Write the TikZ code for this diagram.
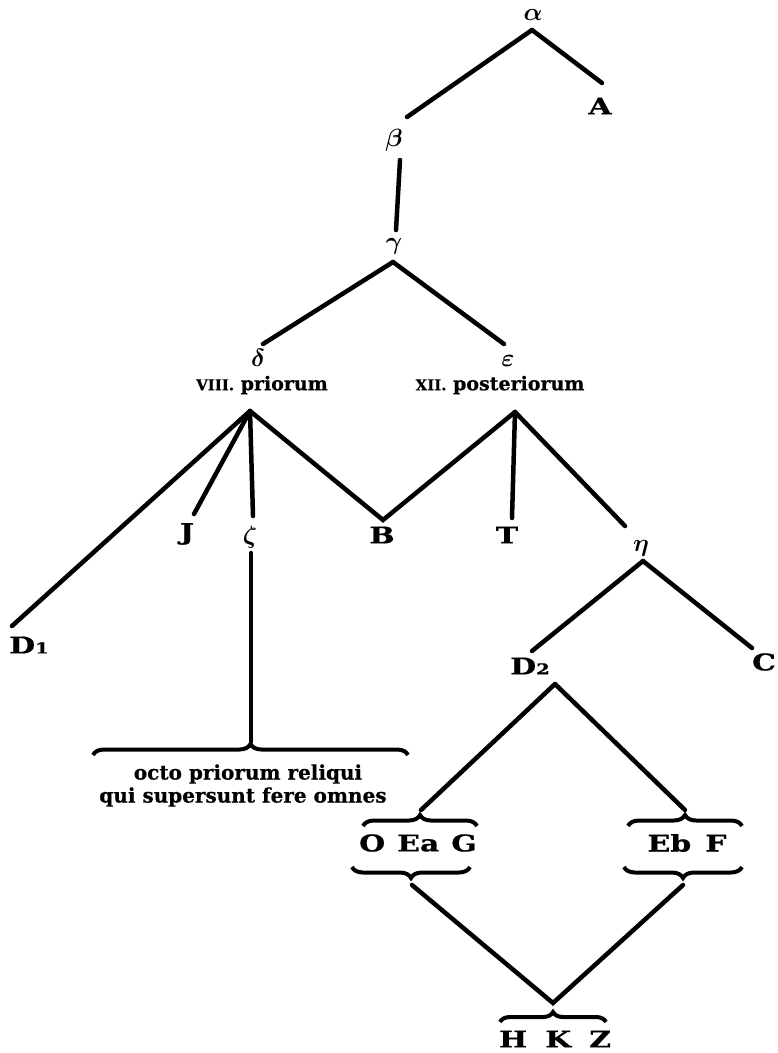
\documentclass[tikz,border=0pt]{standalone}
\usepackage{fontspec}
\setmainfont{DejaVu Serif}
\newfontfamily\fatface{DejaVu Serif}[FakeStretch=1.3,FakeBold=0.8]
\newfontfamily\textface{DejaVu Serif}[FakeBold=0.6]
\usetikzlibrary{decorations.pathreplacing}
\begin{document}
\begin{tikzpicture}[x=1pt,y=-1pt,
  edge/.style={line width=4.5pt, line cap=round},
  bigl/.style={font=\fatface\bfseries\fontsize{23}{23}\selectfont, inner sep=0pt},
  greek/.style={font=\fontsize{24}{24}\selectfont\boldmath, inner sep=0pt},
  lbl/.style={font=\textface\bfseries\fontsize{19}{19}\selectfont, inner sep=0pt},
  txt/.style={font=\textface\bfseries\fontsize{20}{20}\selectfont, inner sep=0pt},
  bracep/.style={decorate, decoration={brace, amplitude=11pt}, line width=4pt}
]
\useasboundingbox (0,0) rectangle (778,1053);
% top
\node[greek] (alpha) at (533,15) {$\alpha$};
\coordinate (aT) at (532,30);
\coordinate (aL) at (407,117);
\coordinate (aR) at (602,83);
\node[bigl] (A) at (600,106) {A};
\node[greek] (beta) at (394,140) {$\beta$};
\coordinate (bB) at (400,160);
\coordinate (gU) at (396,230);
\node[greek] (gamma) at (394,246) {$\gamma$};
\coordinate (gT) at (393,262);
\coordinate (gL) at (263,344);
\coordinate (gR) at (504,344);
\draw[edge] (aT) -- (aL);
\draw[edge] (aT) -- (aR);
\draw[edge] (bB) -- (gU);
\draw[edge] (gT) -- (gL);
\draw[edge] (gT) -- (gR);
\node[greek] (delta) at (258,358) {$\delta$};
\node[greek] (eps) at (508,361) {$\varepsilon$};
\node[lbl] (prio) at (262,385) {{\fontsize{15}{15}\selectfont VIII.}\ priorum};
\node[lbl] (post) at (500,385) {{\fontsize{15}{15}\selectfont XII.}\ posteriorum};
% second level
\coordinate (pT) at (250,411);
\coordinate (qT) at (515,412);
\coordinate (D1e) at (12,626);
\coordinate (Je) at (194,514);
\coordinate (Ze) at (253,516);
\coordinate (Bv) at (383,520);
\coordinate (Te) at (512,518);
\coordinate (He) at (625,526);
\draw[edge] (pT) -- (D1e);
\draw[edge] (pT) -- (Je);
\draw[edge] (pT) -- (Ze);
\draw[edge] (pT) -- (Bv) -- (qT);
\draw[edge] (qT) -- (Te);
\draw[edge] (qT) -- (He);
\node[bigl] (D1) at (29,645) {D{\fontsize{15}{15}\selectfont 1}};
\node[bigl] (J) at (187,534) {J};
\node[greek] (zeta) at (250,537) {$\zeta$};
\node[bigl] (B) at (382,535) {B};
\node[bigl] (T) at (507,535) {T};
\node[greek] (eta) at (641,548) {$\eta$};
% zeta branch
\coordinate (zB) at (251,553);
\coordinate (zE) at (251,742);
\draw[edge] (zB) -- (zE);
\draw[bracep] (93,755) -- (408,755);
\node[txt] (octo) at (248,774) {octo priorum reliqui};
\node[txt] (qui) at (243,797) {qui supersunt fere omnes};
% eta branch
\coordinate (hT) at (643,561);
\coordinate (hL) at (532,651);
\coordinate (hR) at (752,648);
\draw[edge] (hT) -- (hL);
\draw[edge] (hT) -- (hR);
\node[bigl] (D2) at (530,666) {D{\fontsize{15}{15}\selectfont 2}};
\node[bigl] (C) at (764,662) {C};
\coordinate (dT) at (555,684);
\coordinate (oU) at (421,810);
\coordinate (eU) at (685,810);
\draw[edge] (dT) -- (oU);
\draw[edge] (dT) -- (eU);
\draw[bracep] (363,826) -- (477,826);
\draw[bracep] (628,826) -- (742,826);
\node[bigl] (OEG) at (418,843) {O\hspace{12pt}Ea\hspace{12pt}G};
\node[bigl] (EbF) at (687,843) {Eb\hspace{14pt}F};
\draw[bracep] (470,867) -- (352,867);
\draw[bracep] (742,867) -- (624,867);
\coordinate (oD) at (412,885);
\coordinate (eD) at (683,885);
\coordinate (hB) at (553,1003);
\draw[edge] (oD) -- (hB) -- (eD);
\draw[bracep, decoration={amplitude=10pt}] (500,1022) -- (606,1022);
\node[bigl] (HKZ) at (555,1039) {H\hspace{18pt}K\hspace{18pt}Z};
\end{tikzpicture}
\end{document}
